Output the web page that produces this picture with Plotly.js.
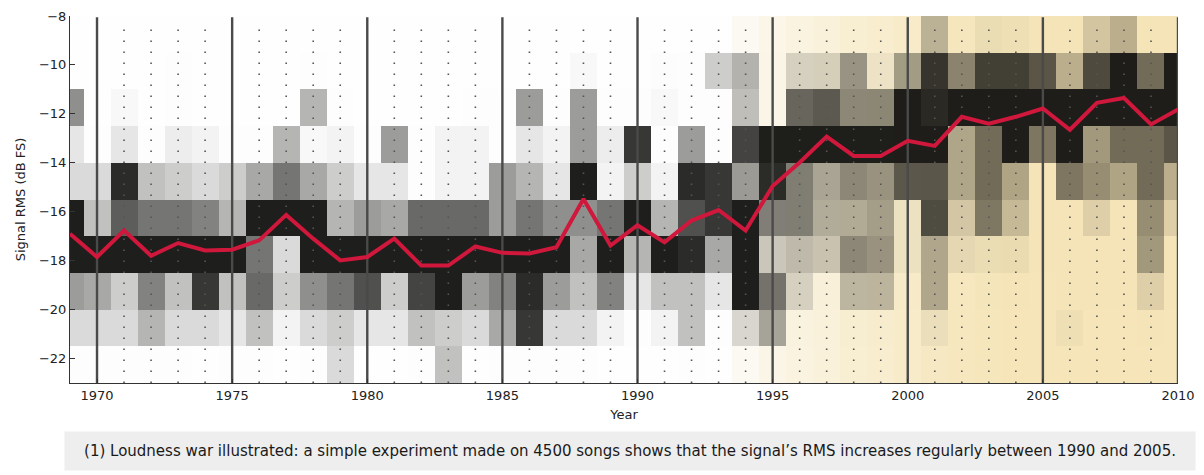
<!DOCTYPE html>
<html>
<head>
<meta charset="utf-8">
<script src="https://cdn.plot.ly/plotly-3.0.1.min.js"></script>
<style>html,body{margin:0;padding:0;background:#fff;}#chart{width:1204px;height:475px;}</style>
</head>
<body>
<div id="chart"></div>
<script>
// ---- data ----
const years = [1969,1970,1971,1972,1973,1974,1975,1976,1977,1978,
               1979,1980,1981,1982,1983,1984,1985,1986,1987,1988,
               1989,1990,1991,1992,1993,1994,1995,1996,1997,1998,
               1999,2000,2001,2002,2003,2004,2005,2006,2007,2008,
               2009,2010];

// RMS bins (dB FS), centre of each 1.5 dB bin, bottom to top
const binCenters = [-22.25,-20.75,-19.25,-17.75,-16.25,-14.75,-13.25,-11.75,-10.25,-8.75];

// share of songs per bin (0 = none, 1 = most), one array per bin
const bin_m22_25 = [.05,.05,.05,.05,.05,.03,.05,.05,.03,.05, .20,.02,.02,.05,.30,.02,.05,.05,.05,.05, .02,.02,.02,.05,.02,.05,.05,.03,.02,.03, .03,.03,.05,.02,.02,.02,.02,.03,.02,.02, .03,.02];
const bin_m20_75 = [.20,.20,.20,.35,.20,.20,.15,.30,.10,.20, .25,.15,.15,.30,.25,.20,.40,.85,.20,.20, .10,.05,.10,.30,.05,.20,.40,.05,.03,.05, .05,.03,.10,.03,.03,.03,.03,.08,.03,.03, .05,.03];
const bin_m19_25 = [.45,.40,.25,.55,.30,.85,.30,.65,.25,.50, .60,.75,.25,.80,.95,.45,.55,.90,.45,.30, .55,.15,.30,.30,.15,.95,.60,.20,.05,.30, .30,.05,.35,.03,.05,.05,.03,.05,.05,.05, .15,.05];
const bin_m17_75 = [.95,.95,.95,.95,.95,.95,.95,.60,.20,.95, .95,.95,.95,.95,.95,.95,.95,.95,.95,.40, .95,.35,.95,.90,.40,.95,.25,.30,.25,.50, .45,.10,.35,.12,.10,.10,.05,.05,.05,.05, .40,.05];
const bin_m16_25 = [.95,.30,.70,.60,.60,.55,.35,.95,.95,.95, .35,.45,.40,.65,.65,.65,.45,.60,.50,.50, .60,.95,.35,.75,.85,.95,.55,.55,.35,.35, .40,.10,.75,.20,.55,.25,.05,.05,.15,.05, .45,.15];
const bin_m14_75 = [.20,.20,.90,.30,.25,.20,.25,.40,.60,.40, .25,.15,.15,.05,.10,.10,.45,.35,.15,.95, .10,.25,.10,.90,.85,.45,.90,.55,.38,.50, .45,.70,.70,.35,.60,.35,.05,.55,.45,.35, .60,.30];
const bin_m13_25 = [.15,.05,.15,.05,.12,.10,.05,.05,.35,.08, .10,.05,.45,.05,.10,.10,.05,.15,.10,.45, .12,.85,.05,.45,.05,.80,.95,.95,.95,.95, .95,.95,.95,.35,.60,.95,.55,.95,.40,.60, .60,.70];
const bin_m11_75 = [.50,.03,.08,.02,.05,.02,.02,.02,.02,.35, .05,.02,.02,.02,.02,.05,.05,.45,.05,.45, .05,.05,.08,.05,.05,.30,.05,.65,.70,.50, .50,.95,.90,.95,.95,.95,.95,.95,.95,.95, .95,.95];
const bin_m10_25 = [.03,.03,.02,.02,.05,.02,.02,.02,.02,.05, .02,.02,.02,.02,.02,.02,.02,.02,.03,.08, .02,.02,.06,.05,.25,.35,.05,.20,.20,.45, .10,.40,.85,.50,.80,.80,.70,.30,.75,.95, .60,.95];
const bin_m8_75  = [.02,.02,.02,.02,.02,.02,.02,.02,.02,.02, .02,.02,.02,.02,.02,.02,.02,.02,.02,.02, .02,.02,.02,.02,.02,.05,.03,.02,.02,.02, .02,.03,.30,.05,.10,.08,.05,.05,.20,.30, .05,.05];

// mean RMS per year (dB FS)
const meanRms = [-16.9,-17.85,-16.77,-17.8,-17.28,-17.58,-17.55,-17.17,-16.13,-17.1,
                 -17.99,-17.85,-17.1,-18.2,-18.2,-17.42,-17.68,-17.71,-17.45,-15.48,
                 -17.38,-16.55,-17.25,-16.36,-15.93,-16.77,-14.95,-13.99,-12.93,-13.72,
                 -13.72,-13.1,-13.31,-12.12,-12.4,-12.12,-11.78,-12.65,-11.55,-11.35,
                 -12.43,-11.82];

const xTicks = [1970,1975,1980,1985,1990,1995,2000,2005,2010];
const yTicks = [-22,-20,-18,-16,-14,-12,-10,-8];
const caption = "(1) Loudness war illustrated: a simple experiment made on 4500 songs shows that the signal\u2019s RMS increases regularly between 1990 and 2005.";

// ---- build ----
const zMain = [bin_m22_25,bin_m20_75,bin_m19_25,bin_m17_75,bin_m16_25,bin_m14_75,bin_m13_25,bin_m11_75,bin_m10_25,bin_m8_75];

// background warm tint (style only): grows from the mid 1990s
function tint(y){ const t = Math.min(1, Math.max(0, (y - 1993.5) / 10)); return Math.pow(t, 0.6); }
const zBg = binCenters.map(() => years.map(tint));

const yMin = -23, yMax = -8;
const majorX = [], majorY = [], minorX = [], minorY = [];
years.forEach(y => {
  if (y === years[0]) return;
  if (y % 5 === 0) { majorX.push(y, y, null); majorY.push(yMin, yMax - 0.05, null); }
  else { minorX.push(y, y, null); minorY.push(yMin, yMax - 0.3, null); }
});

const FONT = "DejaVu Sans, Arial, sans-serif";

const traces = [
  { type:'heatmap', x:years, y:binCenters, z:zBg, zmin:0, zmax:1,
    colorscale:[[0,'#ffffff'],[1,'#f6e6ba']], showscale:false, hoverinfo:'skip' },
  { type:'heatmap', x:years, y:binCenters, z:zMain, zmin:0, zmax:1,
    colorscale:[[0,'rgba(18,18,16,0)'],[0.06,'rgba(18,18,16,0.01)'],[1,'rgba(18,18,16,1)']], showscale:false },
  { type:'scatter', mode:'lines', x:minorX, y:minorY, hoverinfo:'skip',
    line:{color:'#555555', width:1.6, dash:'1.6px,9.4px'} },
  { type:'scatter', mode:'lines', x:majorX, y:majorY, hoverinfo:'skip',
    line:{color:'#4a4a4a', width:2.4} },
  { type:'scatter', mode:'lines', x:years, y:meanRms, name:'mean RMS',
    line:{color:'#d0173c', width:4} }
];

const layout = {
  width:1204, height:475,
  margin:{l:70, r:26, t:16, b:92},
  paper_bgcolor:'#ffffff', plot_bgcolor:'#ffffff',
  showlegend:false,
  font:{family:FONT, color:'#222'},
  xaxis:{ range:[1969,2010], tickvals:xTicks, ticks:'inside', ticklen:4, tickcolor:'#333',
          showline:true, linecolor:'#333', linewidth:1, showgrid:false, zeroline:false,
          tickfont:{family:FONT, size:13, color:'#222'},
          title:{text:'Year', font:{family:FONT, size:13, color:'#222'}, standoff:8} },
  yaxis:{ range:[yMin,yMax], tickvals:yTicks, ticks:'inside', ticklen:5, tickcolor:'#333',
          showline:true, linecolor:'#333', linewidth:1, showgrid:false, zeroline:false,
          tickfont:{family:FONT, size:13, color:'#222'},
          title:{text:'Signal RMS (dB FS)', font:{family:FONT, size:13, color:'#222'}, standoff:10} },
  annotations:[{ xref:'paper', yref:'paper', x:0.505, y:-0.185, xanchor:'center', yanchor:'middle',
                 text:caption, showarrow:false, bgcolor:'#eeeeee', width:1122, height:30, borderpad:4,
                 font:{family:FONT, size:15, color:'#1a1a1a'} }]
};

Plotly.newPlot('chart', traces, layout, {displayModeBar:false, staticPlot:true});
</script>
</body>
</html>
